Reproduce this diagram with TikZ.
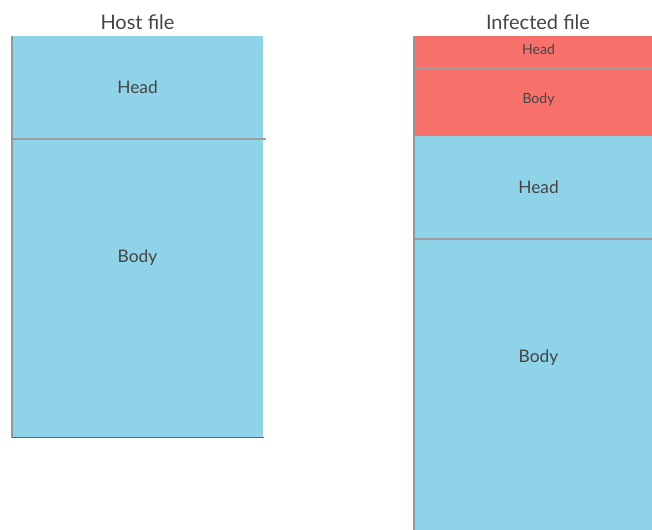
\documentclass[tikz,border=0pt]{standalone}
\usepackage{fontspec}
\setmainfont{Lato}
\definecolor{fileblue}{HTML}{8FD3E8}
\definecolor{filered}{HTML}{F8706A}
\definecolor{divgray}{HTML}{9C9C9C}
\definecolor{edgegray}{HTML}{8A9A9E}
\definecolor{txtgray}{HTML}{444444}
\begin{document}
\begin{tikzpicture}[x=0.75pt,y=-0.75pt,
  sec/.style={draw=none, inner sep=0pt, anchor=north west},
  lbl/.style={text=txtgray, inner sep=0pt, font=\fontsize{13pt}{15pt}\selectfont},
  small/.style={text=txtgray, inner sep=0pt, font=\fontsize{10.5pt}{12pt}\selectfont},
  title/.style={text=txtgray, inner sep=0pt, font=\fontsize{15pt}{17pt}\selectfont},
  divider/.style={draw=divgray, line width=1.5pt},
  edgeline/.style={draw=edgegray, line width=1pt}]
\useasboundingbox (0,0) rectangle (652,530);
% left file
\node[title] (t1) at (137.5,22) {Host file};
\node[sec, fill=fileblue, minimum width=188.25pt, minimum height=76.5pt] (hh) at (12,36) {};
\node[sec, fill=fileblue, minimum width=188.25pt, minimum height=224.25pt] (hb) at (12,138) {};
\node[lbl] (hhl) at (137.5,87) {Head};
\node[lbl] (hbl) at (137.5,258) {Body};
\draw[divider] (hh.south west) -- ([xshift=1.5pt]hh.south east);
\draw[edgeline] (hh.north west) -- (hb.south west);
\draw[edgeline, draw=gray!80!black] (hb.south west) -- (hb.south east);
% right file
\node[title] (t2) at (538,22) {Infected file};
\node[sec, fill=filered, minimum width=187.5pt, minimum height=24pt] (vh) at (414,36) {};
\node[sec, fill=filered, minimum width=187.5pt, minimum height=51pt] (vb) at (414,68) {};
\node[sec, fill=fileblue, minimum width=187.5pt, minimum height=76.5pt] (ih) at (414,136) {};
\node[sec, fill=fileblue, minimum width=187.5pt, minimum height=219pt] (ib) at (414,238) {};
\node[small] (vhl) at (538.5,49) {Head};
\node[small] (vbl) at (538.5,100) {Body};
\node[lbl] (ihl) at (538.5,187) {Head};
\node[lbl] (ibl) at (538.5,358) {Body};
\draw[divider] ([xshift=-1pt]vh.south west) -- (vh.south east);
\draw[divider] ([xshift=-1pt]ih.south west) -- (ih.south east);
\draw[edgeline] (vh.north west) -- (ib.south west);
\end{tikzpicture}
\end{document}
